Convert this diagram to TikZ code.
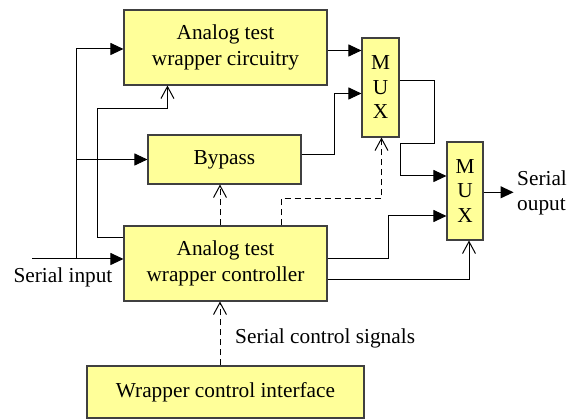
\documentclass[tikz,border=0pt]{standalone}
\usepackage{fontspec}
\setmainfont{Liberation Serif}
\usetikzlibrary{arrows.meta}
\definecolor{boxfill}{HTML}{FFFF99}
\definecolor{boxline}{HTML}{404040}
\tikzset{
  blk/.style={draw=boxline, fill=boxfill, line width=1.1pt, inner sep=0pt,
    align=center, font=\fontsize{21.3}{25.5}\selectfont},
  lbl/.style={inner sep=0pt, font=\fontsize{21.3}{25.5}\selectfont},
  wire/.style={line width=1pt},
  fill arrow/.style={wire, -{Triangle[length=13pt,width=12pt]}},
  open arrow/.style={wire, -{Straight Barb[length=12pt,width=13pt,line width=1pt]}},
  dashline/.style={dash pattern=on 6pt off 4pt}
}
\begin{document}
\begin{tikzpicture}[x=1pt,y=-1pt]
\useasboundingbox (0,0) rectangle (574,419);

% blocks
\node[blk, minimum width=203pt, minimum height=75pt] (circ) at (225.5,47.5) {Analog test\\wrapper circuitry};
\node[blk, minimum width=153pt, minimum height=49pt] (byp) at (224.5,159.5) {Bypass};
\node[blk, minimum width=203pt, minimum height=75pt] (ctrl) at (225.5,263.5) {Analog test\\wrapper controller};
\node[blk, minimum width=277pt, minimum height=52pt] (wci) at (225.5,392) {Wrapper control interface};
\node[blk, minimum width=37pt, minimum height=99pt, font=\fontsize{21.3}{24.5}\selectfont] (mux1) at (380.5,87.5) {M\\U\\X};
\node[blk, minimum width=36pt, minimum height=98pt, font=\fontsize{21.3}{24.5}\selectfont] (mux2) at (465,191) {M\\U\\X};

% labels
\node[lbl] (sinlbl) at (63,277) {Serial input};
\node[lbl, anchor=west] (scs) at (235,338) {Serial control signals};
\node[lbl, anchor=west, align=left] (sout) at (517,193) {Serial\\ouput};

% serial input and its branches
\coordinate (sin) at (32,259);
\coordinate (j1) at (76,259);
\draw[fill arrow] (sin) -- (sin -| ctrl.west);
\draw[fill arrow] (j1) |- ([yshift=-1.5pt]circ.west);
\draw[fill arrow] (j1 |- byp.west) -- (byp.west);

% controller to circuitry
\draw[open arrow] ([yshift=-12.5pt]ctrl.north west) -| (97,109) -| ([xshift=44pt]circ.south west);

% dashed control lines
\draw[open arrow, dashline] ([xshift=-5.5pt]ctrl.north) coordinate (d1) -- (d1 |- byp.south);
\draw[open arrow, dashline] ([xshift=56pt]ctrl.north) -- ++(0,-27) -| ([xshift=1pt]mux1.south);
\draw[open arrow, dashline] ([xshift=-5.5pt]wci.north) coordinate (d2) -- (d2 |- ctrl.south);

% data paths into the first multiplexer
\draw[fill arrow] ([yshift=-3pt]circ.east) coordinate (c1) -- (c1 -| mux1.west);
\draw[fill arrow] ([yshift=4.5pt]byp.east) -- ++(33,0) |- ([yshift=-6pt]mux1.west);

% first multiplexer to second
\draw[fill arrow] ([yshift=6.5pt]mux1.east) -- ++(35,0) -- ++(0,63) -- ++(-34,0) |- ([yshift=15pt]mux2.west);

% controller to second multiplexer
\draw[fill arrow] ([yshift=4.5pt]ctrl.east) -- ++(60.5,0) |- ([yshift=-25pt]mux2.west);
\draw[open arrow] ([yshift=-16.5pt]ctrl.east) -| ([xshift=4pt]mux2.south);

% output
\draw[fill arrow] ([yshift=-1.3pt]mux2.east) -- ++(30,0);
\end{tikzpicture}
\end{document}
